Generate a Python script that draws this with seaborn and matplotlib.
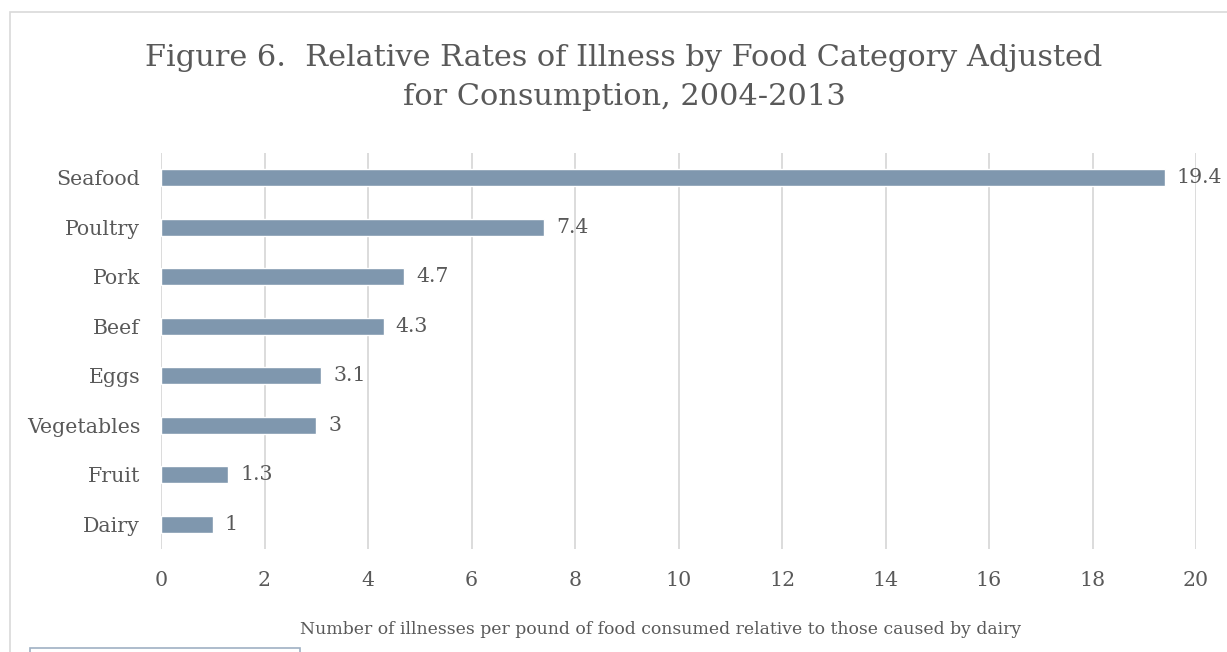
import matplotlib
matplotlib.use("Agg")
import matplotlib.pyplot as plt
import matplotlib.patches as mpatches
import seaborn as sns
import pandas as pd

categories = ["Seafood", "Poultry", "Pork", "Beef", "Eggs", "Vegetables", "Fruit", "Dairy"]
rates = [19.4, 7.4, 4.7, 4.3, 3.1, 3, 1.3, 1]
value_labels = ["19.4", "7.4", "4.7", "4.3", "3.1", "3", "1.3", "1"]
x_ticks = [0, 2, 4, 6, 8, 10, 12, 14, 16, 18, 20]

df = pd.DataFrame({"category": categories, "rate": rates})

sns.set_theme(style="white")
plt.rcParams["font.family"] = ["DejaVu Serif"]
text_color = "#595959"
grid_color = "#d9d9d9"
bar_color = "#7f97ae"

W, H = 1227, 652
fig = plt.figure(figsize=(W / 100, H / 100), dpi=100)
ax = fig.add_axes([161 / W, 1 - 549 / H, (1196 - 161) / W, (549 - 153) / H])

sns.barplot(data=df, x="rate", y="category", orient="h", color=bar_color,
            width=0.35, saturation=1, ax=ax, zorder=3)

ax.set_xlim(0, 20)
ax.set_xticks(x_ticks)
ax.set_xticklabels([str(t) for t in x_ticks])
ax.grid(axis="x", color=grid_color, linewidth=1.3, zorder=0)
ax.set_axisbelow(True)
for s in ax.spines.values():
    s.set_visible(False)
ax.tick_params(axis="both", length=0, labelsize=14.8, colors=text_color)
ax.tick_params(axis="y", pad=15)
ax.tick_params(axis="x", pad=16)
ax.set_ylabel("")
ax.set_xlabel("")

for cont in ax.containers:
    ax.bar_label(cont, labels=value_labels, padding=8.5, fontsize=14.8, color=text_color)

fig.text(661 / W, 1 - 630 / H,
         "Number of illnesses per pound of food consumed relative to those caused by dairy",
         ha="center", va="center", fontsize=12.4, color=text_color)

fig.text(624 / W, 1 - 44 / H,
         "Figure 6.  Relative Rates of Illness by Food Category Adjusted\nfor Consumption, 2004-2013",
         ha="center", va="top", fontsize=21.9, color=text_color, linespacing=1.52)

# chart area border and partial legend frame
fig.patches.append(mpatches.Rectangle((10 / W, -0.1), 1.2, 1.1 - 12 / H, transform=fig.transFigure,
                                      fill=False, edgecolor=grid_color, linewidth=1.2))
fig.patches.append(mpatches.Rectangle((30 / W, -0.1), 270 / W, 0.1 + 4 / H, transform=fig.transFigure,
                                      fill=False, edgecolor="#9fb0c4", linewidth=1.2))

fig.savefig("out.png", dpi=100, facecolor="white")
